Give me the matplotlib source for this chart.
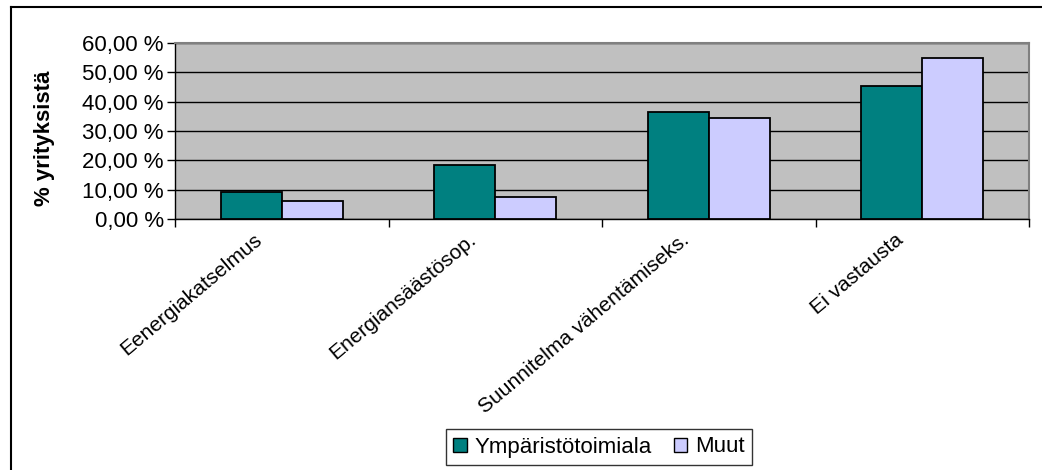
import numpy as np
import matplotlib.pyplot as plt
import matplotlib.transforms as mtransforms
from matplotlib.lines import Line2D
from matplotlib.patches import Patch

plt.rcParams['font.family'] = ['Liberation Sans', 'DejaVu Sans']

categories = ["Eenergiakatselmus", "Energiansäästösop.", "Suunnitelma vähentämiseks.", "Ei vastausta"]
ymparisto = [9.1, 18.3, 36.4, 45.5]
muut = [6.3, 7.4, 34.6, 54.8]
series_names = ["Ympäristötoimiala", "Muut"]
yticks = [0, 10, 20, 30, 40, 50, 60]

fig = plt.figure(figsize=(10.42, 4.70), dpi=100)
ax = fig.add_axes([175/1042, 1 - 219/470, (1029 - 175)/1042, (219 - 43)/470])
ax.set_facecolor("#C0C0C0")

x = np.arange(len(categories)) + 0.5
w = 0.285
ax.bar(x - w/2, ymparisto, w, color="#008080", edgecolor="black", linewidth=1.3, zorder=3)
ax.bar(x + w/2, muut, w, color="#CCCCFF", edgecolor="black", linewidth=1.3, zorder=3)

ax.set_xlim(0, len(categories))
ax.set_ylim(0, 60)
ax.set_yticks(yticks)
ax.set_yticklabels(["%d,00 %%" % v for v in yticks], fontsize=16)
ax.yaxis.grid(True, color="black", linewidth=1.0, zorder=1)
ax.set_axisbelow(True)

# category ticks at boundaries, labels at centres
ax.set_xticks(np.arange(len(categories) + 1))
ax.set_xticklabels([])
ax.set_xticks(x, minor=True)
ax.set_xticklabels(categories, minor=True, rotation=40, ha="right",
                   rotation_mode="anchor", fontsize=15)
ax.tick_params(axis="x", which="minor", length=0, pad=8)
ax.tick_params(axis="x", which="major", length=6, direction="out", width=1)
ax.tick_params(axis="y", length=6, direction="out", width=1, pad=2)
offset = mtransforms.ScaledTranslation(-28/100, 0, fig.dpi_scale_trans)
for lab in ax.get_xticklabels(minor=True):
    lab.set_transform(lab.get_transform() + offset)

for s in ["top", "right"]:
    ax.spines[s].set_color("#808080")
    ax.spines[s].set_linewidth(1.5)
for s in ["left", "bottom"]:
    ax.spines[s].set_color("black")
    ax.spines[s].set_linewidth(1.0)

ax.set_ylabel("% yrityksistä", fontsize=16, fontweight="bold")
ax.yaxis.set_label_coords(-0.14, 0.46)

handles = [Patch(facecolor="#008080", edgecolor="black"),
           Patch(facecolor="#CCCCFF", edgecolor="black")]
leg = fig.legend(handles, series_names, loc="center", bbox_to_anchor=(599/1042, 1 - 447/470),
                 ncol=2, fontsize=16, frameon=True, fancybox=False, handlelength=0.6,
                 handleheight=0.6, handletextpad=0.35, columnspacing=1.0, borderpad=0.35)
leg.get_frame().set_edgecolor("black")
leg.get_frame().set_linewidth(1.0)

# chart outer border (left and top)
fig.add_artist(Line2D([11/1042, 11/1042], [0, 1 - 7/470], color="black", linewidth=1.5))
fig.add_artist(Line2D([11/1042, 1], [1 - 7/470, 1 - 7/470], color="black", linewidth=1.5))

fig.savefig("out.png", dpi=100)
